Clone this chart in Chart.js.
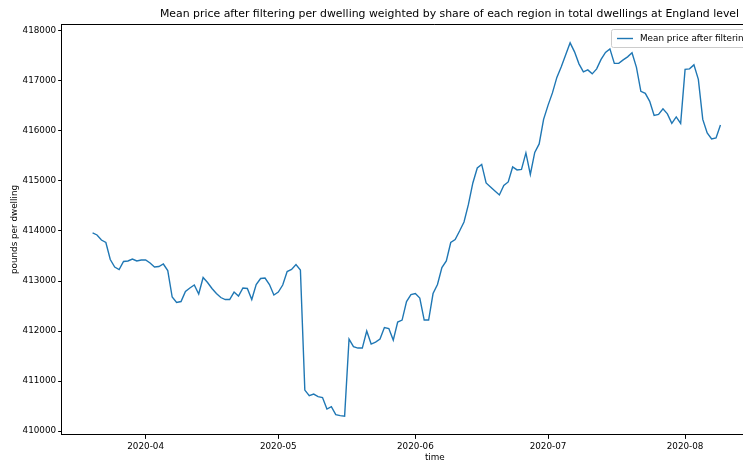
<!DOCTYPE html>
<html lang="en">
<head>
<meta charset="UTF-8">
<title>Mean price after filtering</title>
<script src="https://cdn.jsdelivr.net/npm/chart.js"></script>
<style>
  html, body { margin: 0; padding: 0; background: #fff; overflow: hidden; }
  #wrap { position: relative; width: 891px; height: 463px; }
</style>
</head>
<body>
<div id="wrap"><canvas id="priceChart"></canvas></div>
<script>
// daily series, first point is startDate
const startDate = '2020-03-20';
const meanPrice = [
  413960, 413920, 413820, 413770, 413430, 413280, 413230, 413390, 413400, 413440,
  413400, 413420, 413420, 413360, 413280, 413290, 413340, 413210, 412680, 412570,
  412590, 412790, 412860, 412920, 412740, 413070, 412970, 412850, 412750, 412670,
  412630, 412630, 412780, 412700, 412860, 412850, 412630, 412930, 413050, 413060,
  412930, 412720, 412780, 412920, 413190, 413230, 413330, 413220, 410820, 410710,
  410740, 410690, 410670, 410440, 410490, 410330, 410310, 410300, 411840, 411690,
  411660, 411660, 412000, 411740, 411780, 411840, 412070, 412050, 411820, 412180,
  412220, 412590, 412730, 412750, 412660, 412220, 412220, 412750, 412930, 413270,
  413400, 413770, 413830, 414000, 414180, 414530, 414960, 415260, 415330, 414960,
  414880, 414800, 414720, 414910, 414980, 415280, 415220, 415230, 415560, 415130,
  415570, 415740, 416230, 416510, 416760, 417070, 417280, 417520, 417760, 417580,
  417340, 417180, 417220, 417140, 417240, 417430, 417570, 417640, 417350, 417350,
  417420, 417480, 417560, 417270, 416790, 416750, 416590, 416310, 416330, 416440,
  416340, 416150, 416280, 416150, 417230, 417240, 417320, 417030, 416230, 415960,
  415840, 415860, 416120
];
const xTickLabels = ['2020-04', '2020-05', '2020-06', '2020-07', '2020-08'];
const yTickValues = [410000, 411000, 412000, 413000, 414000, 415000, 416000, 417000, 418000];
const xLimits = [-7.0, 161.8];   // days relative to startDate
const yLimits = [409925, 418135];

function dayNum(s) {
    const p = s.split('-').map(Number);
    return Date.UTC(p[0], p[1] - 1, p[2] || 1) / 864e5;
}
function dayLabel(n) {
    const d = new Date(Math.round(n) * 864e5);
    return d.getUTCFullYear() + '-' + String(d.getUTCMonth() + 1).padStart(2, '0');
}

const start = dayNum(startDate);
const points = meanPrice.map((v, i) => ({ x: start + i, y: v }));

const font = { family: 'DejaVu Sans', size: 8.8 };

// top and right spines (left/bottom come from the axes)
const frame = {
    id: 'frame',
    afterDraw(chart) {
        const { ctx, chartArea: a } = chart;
        ctx.save();
        ctx.strokeStyle = '#000';
        ctx.lineWidth = 1;
        ctx.beginPath();
        ctx.moveTo(a.left, Math.round(a.top) + 0.5);
        ctx.lineTo(a.right, Math.round(a.top) + 0.5);
        ctx.moveTo(Math.round(a.right) - 0.5, a.top);
        ctx.lineTo(Math.round(a.right) - 0.5, a.bottom);
        ctx.stroke();
        ctx.restore();
    }
};

// boxed legend in the upper right
const boxLegend = {
    id: 'boxLegend',
    afterDraw(chart, args, opts) {
        const { ctx } = chart;
        const ds = chart.data.datasets[0];
        ctx.save();
        ctx.font = font.size + 'px ' + font.family;
        const tw = ctx.measureText(ds.label).width;
        const x = opts.left, y = opts.top, h = 18, w = 6 + 16 + 7 + tw + 6;
        ctx.fillStyle = 'rgba(255,255,255,0.8)';
        ctx.strokeStyle = '#cccccc';
        ctx.lineWidth = 1;
        ctx.beginPath();
        ctx.roundRect(x + 0.5, y + 0.5, w, h, 2);
        ctx.fill();
        ctx.stroke();
        ctx.strokeStyle = ds.borderColor;
        ctx.lineWidth = ds.borderWidth;
        ctx.beginPath();
        ctx.moveTo(x + 6, y + 9.5);
        ctx.lineTo(x + 22, y + 9.5);
        ctx.stroke();
        ctx.fillStyle = '#000';
        ctx.textBaseline = 'middle';
        ctx.fillText(ds.label, x + 29, y + 9.5);
        ctx.restore();
    }
};

new Chart(document.getElementById('priceChart'), {
    type: 'line',
    data: {
        datasets: [{
            label: 'Mean price after filtering',
            data: points,
            borderColor: '#1f77b4',
            borderWidth: 1.4,
            pointRadius: 0,
            tension: 0,
            fill: false
        }]
    },
    options: {
        responsive: true,
        maintainAspectRatio: false,
        animation: false,
        layout: { padding: { left: 8, right: 0, top: 0, bottom: 0 } },
        plugins: {
            legend: { display: false },
            tooltip: { enabled: false },
            title: {
                display: true,
                text: 'Mean price after filtering per dwelling weighted by share of each region in total dwellings at England level',
                color: '#000',
                font: { family: 'DejaVu Sans', size: 10.9, weight: 'normal' },
                padding: { top: 8, bottom: 3 }
            },
            boxLegend: { left: 611, top: 29 }
        },
        scales: {
            x: {
                type: 'linear',
                min: start + xLimits[0],
                max: start + xLimits[1],
                afterBuildTicks: s => { s.ticks = xTickLabels.map(t => ({ value: dayNum(t) })); },
                ticks: {
                    color: '#000', font: font, padding: 3, maxRotation: 0,
                    autoSkip: false,
                    callback: v => dayLabel(v)
                },
                grid: { drawOnChartArea: false, drawTicks: true, tickLength: 4, color: '#000' },
                border: { display: true, color: '#000' },
                title: { display: true, text: 'time', color: '#000', font: font, padding: { top: -3, bottom: 0 } }
            },
            y: {
                min: yLimits[0],
                max: yLimits[1],
                afterBuildTicks: s => { s.ticks = yTickValues.map(v => ({ value: v })); },
                ticks: { color: '#000', font: font, padding: 2, callback: v => String(v) },
                grid: { drawOnChartArea: false, drawTicks: true, tickLength: 3.5, color: '#000' },
                border: { display: true, color: '#000' },
                title: { display: true, text: 'pounds per dwelling', color: '#000', font: font, padding: { top: 1, bottom: 1 } }
            },
            // empty right-hand space: the original figure runs on past the window edge
            yRight: {
                position: 'right',
                afterFit: s => { s.width = 83; },
                ticks: { display: false },
                grid: { display: false },
                border: { display: false }
            }
        }
    },
    plugins: [frame, boxLegend]
});
</script>
</body>
</html>
